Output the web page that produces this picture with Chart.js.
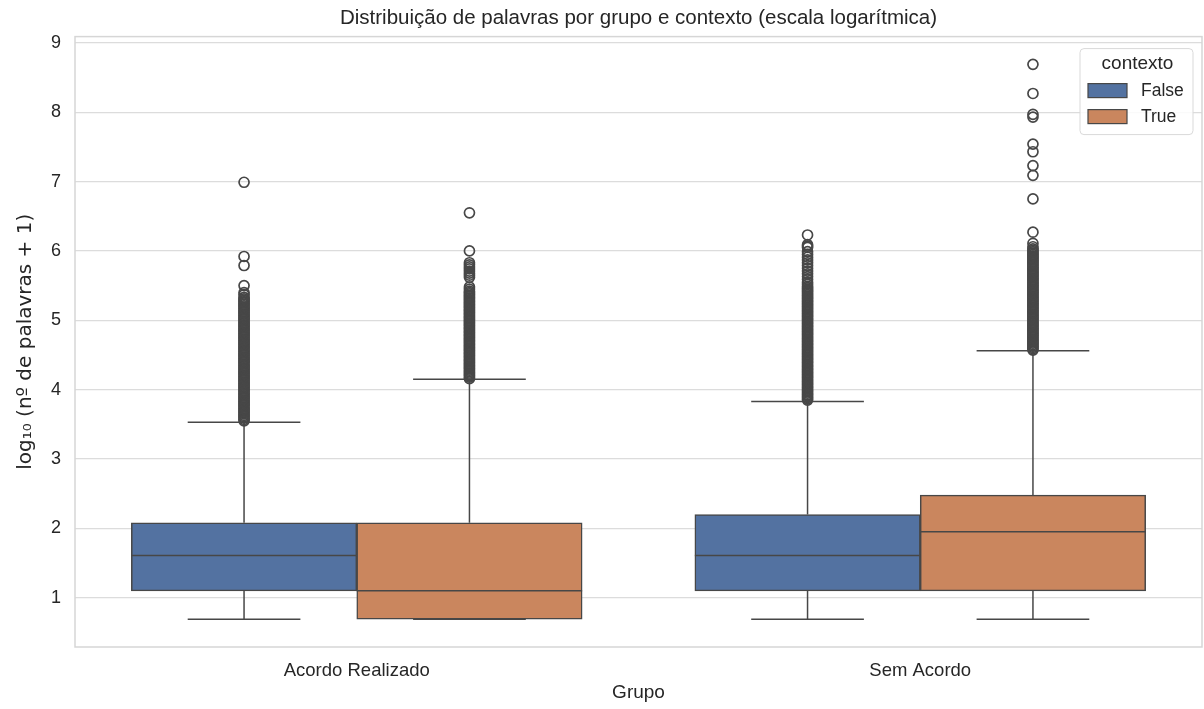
<!DOCTYPE html>
<html>
<head>
<meta charset="utf-8">
<script src="https://cdn.jsdelivr.net/npm/chart.js"></script>
<style>
	html, body { margin: 0; padding: 0; background: #fff; }
	#wrap { width: 1204px; height: 709px; }
</style>
</head>
<body>
<div id="wrap"><canvas id="box-chart" width="1204" height="709"></canvas></div>
<script>
const categories = ['Acordo Realizado', 'Sem Acordo']
const hues = ['False', 'True']
const yTicks = [1, 2, 3, 4, 5, 6, 7, 8, 9]

// estatisticas das caixas, uma posicao por grupo
const loFalse = [0.69, 0.69]
const q1False = [1.10, 1.10]
const medFalse = [1.61, 1.61]
const q3False = [2.08, 2.20]
const hiFalse = [3.53, 3.83]

const loTrue = [0.69, 0.69]
const q1True = [0.69, 1.10]
const medTrue = [1.10, 1.95]
const q3True = [2.08, 2.48]
const hiTrue = [4.15, 4.56]

// outliers (a parte densa vira uma coluna escura)
const outAcordoFalse = [6.99, 5.92, 5.79, 5.50, 5.40, 5.37, 5.33, 5.31, 5.29, 5.27, 5.25, 5.23, 5.21, 5.19, 5.17, 5.15, 5.13, 5.11, 5.09, 5.07, 5.05, 5.03, 5.01, 4.99, 4.97, 4.95, 4.93, 4.91, 4.89, 4.87, 4.85, 4.83, 4.81, 4.79, 4.77, 4.75, 4.73, 4.71, 4.69, 4.67, 4.65, 4.63, 4.61, 4.59, 4.57, 4.55, 4.53, 4.51, 4.49, 4.47, 4.45, 4.43, 4.41, 4.39, 4.37, 4.35, 4.33, 4.31, 4.29, 4.27, 4.25, 4.23, 4.21, 4.19, 4.17, 4.15, 4.13, 4.11, 4.09, 4.07, 4.05, 4.03, 4.01, 3.99, 3.97, 3.95, 3.93, 3.91, 3.89, 3.87, 3.85, 3.83, 3.81, 3.79, 3.77, 3.75, 3.73, 3.71, 3.69, 3.67, 3.65, 3.63, 3.61, 3.59, 3.57, 3.55]
const outAcordoTrue = [6.55, 6.00, 5.83, 5.80, 5.77, 5.74, 5.71, 5.68, 5.65, 5.62, 5.48, 5.45, 5.42, 5.40, 5.38, 5.36, 5.34, 5.32, 5.30, 5.28, 5.26, 5.24, 5.22, 5.20, 5.18, 5.16, 5.14, 5.12, 5.10, 5.08, 5.06, 5.04, 5.02, 5.00, 4.98, 4.96, 4.94, 4.92, 4.90, 4.88, 4.86, 4.84, 4.82, 4.80, 4.78, 4.76, 4.74, 4.72, 4.70, 4.68, 4.66, 4.64, 4.62, 4.60, 4.58, 4.56, 4.54, 4.52, 4.50, 4.48, 4.46, 4.44, 4.42, 4.40, 4.38, 4.36, 4.34, 4.32, 4.30, 4.28, 4.26, 4.24, 4.22, 4.20, 4.18, 4.16]
const outSemFalse = [6.23, 6.09, 6.07, 6.05, 5.99, 5.95, 5.91, 5.87, 5.83, 5.79, 5.75, 5.71, 5.67, 5.63, 5.59, 5.55, 5.52, 5.49, 5.47, 5.45, 5.43, 5.41, 5.39, 5.37, 5.35, 5.33, 5.31, 5.29, 5.27, 5.25, 5.23, 5.21, 5.19, 5.17, 5.15, 5.13, 5.11, 5.09, 5.07, 5.05, 5.03, 5.01, 4.99, 4.97, 4.95, 4.93, 4.91, 4.89, 4.87, 4.85, 4.83, 4.81, 4.79, 4.77, 4.75, 4.73, 4.71, 4.69, 4.67, 4.65, 4.63, 4.61, 4.59, 4.57, 4.55, 4.53, 4.51, 4.49, 4.47, 4.45, 4.43, 4.41, 4.39, 4.37, 4.35, 4.33, 4.31, 4.29, 4.27, 4.25, 4.23, 4.21, 4.19, 4.17, 4.15, 4.13, 4.11, 4.09, 4.07, 4.05, 4.03, 4.01, 3.99, 3.97, 3.95, 3.93, 3.91, 3.89, 3.87, 3.85]
const outSemTrue = [8.69, 8.27, 7.97, 7.93, 7.54, 7.43, 7.23, 7.09, 6.75, 6.27, 6.11, 6.06, 6.03, 6.01, 5.99, 5.97, 5.95, 5.93, 5.91, 5.89, 5.87, 5.85, 5.83, 5.81, 5.79, 5.77, 5.75, 5.73, 5.71, 5.69, 5.67, 5.65, 5.63, 5.61, 5.59, 5.57, 5.55, 5.53, 5.51, 5.49, 5.47, 5.45, 5.43, 5.41, 5.39, 5.37, 5.35, 5.33, 5.31, 5.29, 5.27, 5.25, 5.23, 5.21, 5.19, 5.17, 5.15, 5.13, 5.11, 5.09, 5.07, 5.05, 5.03, 5.01, 4.99, 4.97, 4.95, 4.93, 4.91, 4.89, 4.87, 4.85, 4.83, 4.81, 4.79, 4.77, 4.75, 4.73, 4.71, 4.69, 4.67, 4.65, 4.63, 4.61, 4.59, 4.57]

const colors = ['rgb(83,114,161)', 'rgb(202,134,94)']
const edge = '#474747'
const textColor = '#262626'
const font = "'Liberation Sans', Arial, sans-serif"

// posicao de cada caixa no eixo x (grupo +/- meia caixa)
const hueShift = [-0.2, 0.2]
const boxHalf = 0.2
const capHalf = 0.1

const stats = [
	{ lo: loFalse, q1: q1False, med: medFalse, q3: q3False, hi: hiFalse, out: [outAcordoFalse, outSemFalse] },
	{ lo: loTrue, q1: q1True, med: medTrue, q3: q3True, hi: hiTrue, out: [outAcordoTrue, outSemTrue] },
]

const medianSegs = []
const whiskerSegs = []
const fliers = []
stats.forEach((s, h) => {
	categories.forEach((c, i) => {
		const cx = i + hueShift[h]
		medianSegs.push([cx - boxHalf, s.med[i], cx + boxHalf, s.med[i]])
		whiskerSegs.push([cx, s.q3[i], cx, s.hi[i]])
		whiskerSegs.push([cx, s.lo[i], cx, s.q1[i]])
		whiskerSegs.push([cx - capHalf, s.hi[i], cx + capHalf, s.hi[i]])
		whiskerSegs.push([cx - capHalf, s.lo[i], cx + capHalf, s.lo[i]])
		s.out[i].forEach(v => fliers.push({ x: cx, y: v }))
	})
})

function toLine(segs) {
	const pts = []
	segs.forEach(([x0, y0, x1, y1]) => {
		pts.push({ x: x0, y: y0 }, { x: x1, y: y1 }, { x: x1, y: null })
	})
	return pts
}

const framePlugin = {
	id: 'frame',
	beforeDatasetsDraw(chart) {
		const { ctx, chartArea: a } = chart
		ctx.save()
		ctx.strokeStyle = '#d6d6d6'
		ctx.lineWidth = 1.5
		ctx.strokeRect(a.left, a.top, a.right - a.left, a.bottom - a.top)
		ctx.restore()
	},
	afterDraw(chart) {
		// legenda no canto superior direito, como no seaborn
		const { ctx, chartArea: a } = chart
		const w = 113, h = 86
		const x = a.right - 9 - w, y = a.top + 12
		ctx.save()
		ctx.beginPath()
		ctx.roundRect(x, y, w, h, 4)
		ctx.fillStyle = 'rgba(255,255,255,0.85)'
		ctx.fill()
		ctx.strokeStyle = '#d9d9d9'
		ctx.lineWidth = 1
		ctx.stroke()
		ctx.fillStyle = textColor
		ctx.textBaseline = 'middle'
		ctx.textAlign = 'center'
		ctx.font = '19px ' + font
		ctx.fillText('contexto', x + w / 2 + 1, y + 15)
		ctx.textAlign = 'left'
		ctx.font = '17.5px ' + font
		hues.forEach((lab, k) => {
			const ry = y + 35 + k * 26
			ctx.fillStyle = colors[k]
			ctx.fillRect(x + 8, ry, 39, 14)
			ctx.strokeStyle = edge
			ctx.lineWidth = 1.2
			ctx.strokeRect(x + 8, ry, 39, 14)
			ctx.fillStyle = textColor
			ctx.fillText(lab, x + 61, ry + 7.5)
		})
		ctx.restore()
	}
}

var ctx = document.getElementById('box-chart').getContext('2d')
new Chart(ctx, {
	type: 'bar',
	data: {
		datasets: [
			{
				type: 'line', label: 'mediana', data: toLine(medianSegs),
				borderColor: edge, borderWidth: 1.5, pointRadius: 0, spanGaps: false, order: 1,
			},
			{
				type: 'line', label: 'bigodes', data: toLine(whiskerSegs),
				borderColor: edge, borderWidth: 1.5, pointRadius: 0, spanGaps: false, order: 2,
			},
			{
				type: 'scatter', label: 'outliers', data: fliers,
				pointRadius: 5, pointBorderWidth: 1.7, borderColor: edge, pointBorderColor: edge,
				backgroundColor: 'rgba(0,0,0,0)', pointBackgroundColor: 'rgba(0,0,0,0)', order: 3,
			},
			...hues.map((hname, h) => ({
				label: hname,
				data: categories.map((c, i) => ({ x: i + hueShift[h], y: [stats[h].q1[i], stats[h].q3[i]] })),
				backgroundColor: colors[h],
				borderColor: edge,
				borderWidth: 1.5,
				borderSkipped: false,
				grouped: false,
				categoryPercentage: 1,
				barPercentage: 1,
				order: 4,
			})),
		]
	},
	options: {
		responsive: false,
		animation: false,
		events: [],
		layout: { autoPadding: false, padding: { left: 0, right: 2, top: 0, bottom: 0 } },
		plugins: {
			legend: { display: false },
			tooltip: { enabled: false },
			title: {
				display: true,
				fullSize: false,
				text: 'Distribuição de palavras por grupo e contexto (escala logarítmica)',
				color: textColor,
				font: { family: font, size: 20.5, weight: 'normal' },
				padding: { top: 6, bottom: 6 },
			},
		},
		scales: {
			x: {
				type: 'linear',
				min: -0.5,
				max: 1.5,
				offset: false,
				afterBuildTicks: s => { s.ticks = categories.map((c, i) => ({ value: i })) },
				grid: { display: false, drawTicks: false },
				border: { display: false },
				ticks: {
					color: textColor, font: { family: font, size: 18.5 }, padding: 13, maxRotation: 0,
					callback: v => categories[v],
				},
				title: { display: true, text: 'Grupo', color: textColor, font: { family: font, size: 19 }, padding: { top: 0, bottom: 5 } },
				afterFit: s => { s.height = 62 },
			},
			y: {
				type: 'linear',
				min: 0.29,
				max: 9.09,
				afterBuildTicks: s => { s.ticks = yTicks.map(v => ({ value: v })) },
				grid: { color: '#dcdcdc', lineWidth: 1.3, drawTicks: false },
				border: { display: false },
				ticks: { color: textColor, font: { family: font, size: 18 }, padding: 14 },
				title: { display: true, text: 'log₁₀ (nº de palavras + 1)', color: textColor, font: { family: "'DejaVu Sans', sans-serif", size: 20 }, padding: { top: 14, bottom: 0 } },
				afterFit: s => { s.width = 75 },
			},
		},
	},
	plugins: [framePlugin],
})
</script>
</body>
</html>
